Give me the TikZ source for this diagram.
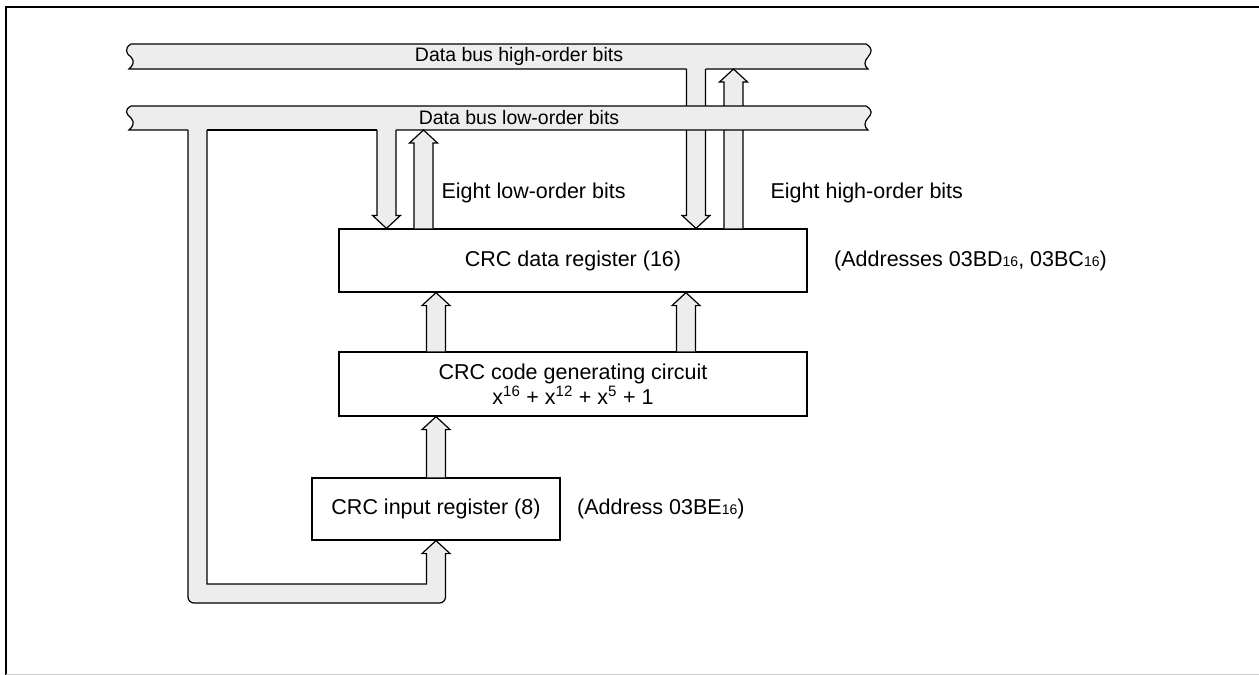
\documentclass[tikz,border=0pt]{standalone}
\usepackage{fontspec}
\setmainfont{Liberation Sans}
\usetikzlibrary{calc,positioning}
\definecolor{busgray}{gray}{0.93}
\newcommand\hexsub[1]{{\fontsize{14}{14}\selectfont #1}}
% fat bus arrow from #1 (open base) to tip #2
\newcommand\busarrow[2]{%
  \path (#1) coordinate (ba) (#2) coordinate (tp) ($(tp)!13pt!(ba)$) coordinate (hb);
  \filldraw[busline] ($(ba)!9.5pt!90:(tp)$) -- ($(hb)!9.5pt!90:(tp)$) -- ($(hb)!14pt!90:(tp)$)
    -- (tp) -- ($(hb)!14pt!-90:(tp)$) -- ($(hb)!9.5pt!-90:(tp)$) -- ($(ba)!9.5pt!-90:(tp)$);
}

\begin{document}
\begin{tikzpicture}[x=1pt, y=-1pt, line width=1.2pt,
  every node/.style={font=\fontsize{21.5}{25}\selectfont, inner sep=0pt},
  regbox/.style={draw, fill=white, align=center},
  busline/.style={draw, fill=busgray, line join=miter},
  note/.style={anchor=west},
  buslbl/.style={font=\fontsize{19.5}{22}\selectfont}]
  \useasboundingbox (0,0) rectangle (1259,675);
  % frame
  \draw[line width=2.5pt] (1259,7) -- (6,7) -- (6,675);
  \draw[black!20, line width=1pt] (6,674) -- (1259,674);

  % attachment points on the buses
  \coordinate (hibus-t) at (696,69);
  \coordinate (hibus-up) at (733.5,69);
  \coordinate (lobus-dn) at (386.5,130);
  \coordinate (lobus-up) at (423.5,130);
  \coordinate (lobus-loop) at (197.5,130);
  \coordinate (loopbot) at (197.5,593.5);

  % high-order bus
  \fill[busgray] (131,44) -- (866,44) .. controls (873,48) and (872,52) .. (868,57)
    .. controls (864,61) and (864,66) .. (868,69) -- (129,69)
    .. controls (133,66) and (135,61) .. (131,57) .. controls (126,54) and (124,48) .. (131,44);
  \draw ($(hibus-t)+(-9.5,0)$) -- (129,69) .. controls (133,66) and (135,61) .. (131,57)
    .. controls (126,54) and (124,48) .. (131,44) -- (866,44)
    .. controls (873,48) and (872,52) .. (868,57) .. controls (864,61) and (864,66) .. (868,69)
    -- ($(hibus-t)+(9.5,0)$);
  \node[buslbl] (hibuslbl) at (519,56.5) {Data bus high-order bits};

  % registers
  \node[regbox, minimum width=468, minimum height=63] (datareg) at (573,260.5) {CRC data register (16)};
  \node[regbox, minimum width=468, minimum height=64] (gen) at (573,384)
    {CRC code generating circuit\\x\textsuperscript{16} + x\textsuperscript{12} + x\textsuperscript{5} + 1};
  \node[regbox, minimum width=248, minimum height=62] (inreg) at (436,509) {CRC input register (8)};

  % high-order paths
  \busarrow{hibus-t}{hibus-t |- datareg.north}
  \busarrow{datareg.north -| hibus-up}{hibus-up}

  % low-order bus (over the high-order paths)
  \fill[busgray] (131,106) -- (866,106) .. controls (873,110) and (872,114) .. (868,118)
    .. controls (864,122) and (864,127) .. (868,130) -- (129,130)
    .. controls (133,127) and (135,122) .. (131,118) .. controls (126,114) and (124,110) .. (131,106);
  \draw ($(lobus-loop)+(-9.5,0)$) -- (129,130) .. controls (133,127) and (135,122) .. (131,118)
    .. controls (126,114) and (124,110) .. (131,106) -- (866,106)
    .. controls (873,110) and (872,114) .. (868,118) .. controls (864,122) and (864,127) .. (868,130)
    -- ($(lobus-dn)+(9.5,0)$);
  \draw ($(lobus-dn)+(-9.5,0)$) -- ($(lobus-loop)+(9.5,0)$);
  \node[buslbl] (lobuslbl) at (519,118) {Data bus low-order bits};

  % low-order paths
  \busarrow{lobus-dn}{lobus-dn |- datareg.north}
  \busarrow{datareg.north -| lobus-up}{lobus-up}

  % feedback loop into the input register
  \filldraw[busline] ($(lobus-loop)+(9.5,0)$) |- ($(loopbot -| inreg.south)+(-9.5,-9.5)$)
    -- ($(inreg.south)+(-9.5,13)$) -- ($(inreg.south)+(-14,13)$) -- (inreg.south)
    -- ($(inreg.south)+(14,13)$) -- ($(inreg.south)+(9.5,13)$) -- ($(inreg.south)+(9.5,19)$)
    [rounded corners=6pt] |- ($(loopbot)+(-9.5,9.5)$) -- ($(lobus-loop)+(-9.5,0)$);

  % register to register
  \busarrow{inreg.north}{gen.south -| inreg.north}
  \busarrow{gen.north -| inreg.north}{datareg.south -| inreg.north}
  \busarrow{$(gen.north)+(113,0)$}{$(datareg.south)+(113,0)$}

  % labels
  \node[note] (lolbl) at (441,193) {Eight low-order bits};
  \node[note] (hilbl) at (770,193) {Eight high-order bits};
  \node[note, right=26 of datareg] (dataaddr) {(Addresses 03BD\hexsub{16}, 03BC\hexsub{16})};
  \node[note, right=16 of inreg] (inaddr) {(Address 03BE\hexsub{16})};
\end{tikzpicture}
\end{document}
